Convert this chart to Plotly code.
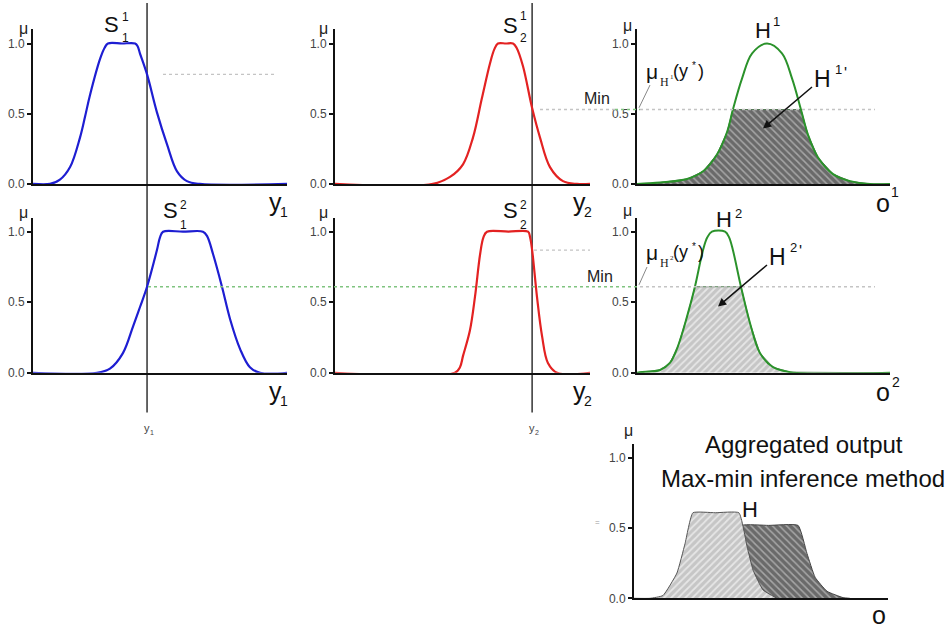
import numpy as np
import plotly.graph_objects as go

W, H = 952, 634
FONT = "Liberation Sans, Arial, sans-serif"
SERIF = "Liberation Serif, Times New Roman, serif"

# ---------------- data ----------------
Y1_INPUT = 4.49   # crisp input y1 (panel x-units 0..10)
Y2_INPUT = 7.73   # crisp input y2

# S_1^1 (blue, row 1)
S11_x = [0.0, 0.67, 1.06, 1.46, 1.85, 2.05, 2.24, 2.64, 2.82, 2.95, 3.5, 4.02, 4.12, 4.21, 4.49, 4.88, 5.28, 5.67, 6.06, 6.57, 10.0]
S11_y = [0.0, 0.0, 0.03, 0.12, 0.33, 0.48, 0.63, 0.89, 0.97, 1.0, 1.0, 1.0, 0.98, 0.93, 0.78, 0.51, 0.28, 0.09, 0.02, 0.0, 0.0]
# S_2^1 (red, row 1)
S21_x = [0.0, 3.84, 4.51, 5.02, 5.41, 5.76, 6.08, 6.25, 6.39, 6.7, 6.98, 7.12, 7.37, 7.73, 8.04, 8.43, 8.94, 9.49, 10.0]
S21_y = [0.0, 0.0, 0.05, 0.14, 0.33, 0.61, 0.86, 0.96, 1.0, 1.0, 1.0, 0.97, 0.84, 0.54, 0.33, 0.12, 0.02, 0.0, 0.0]
# H^1 (green, row 1)
H1_x = [0.0, 0.91, 1.98, 2.61, 3.16, 3.56, 3.79, 4.15, 4.55, 5.14, 5.73, 6.13, 6.48, 6.76, 7.15, 7.75, 8.42, 9.21, 10.0]
H1_y = [0.0, 0.01, 0.035, 0.09, 0.21, 0.37, 0.53, 0.75, 0.93, 1.0, 0.93, 0.75, 0.53, 0.35, 0.19, 0.07, 0.02, 0.0, 0.0]
# S_1^2 (blue, row 2)
S12_x = [0.0, 2.52, 3.03, 3.54, 3.94, 4.22, 4.49, 4.88, 5.0, 5.12, 5.9, 6.69, 6.85, 7.09, 7.44, 7.76, 8.15, 8.54, 8.94, 10.0]
S12_y = [0.0, 0.0, 0.03, 0.14, 0.33, 0.47, 0.61, 0.87, 0.96, 1.0, 1.0, 1.0, 0.97, 0.84, 0.61, 0.38, 0.17, 0.04, 0.0, 0.0]
# S_2^2 (red, row 2)
S22_x = [0.0, 4.7, 4.9, 5.02, 5.29, 5.49, 5.69, 5.82, 5.96, 6.8, 7.57, 7.65, 7.73, 7.92, 8.12, 8.35, 8.71, 10.0]
S22_y = [0.0, 0.0, 0.04, 0.12, 0.30, 0.54, 0.84, 0.96, 1.0, 1.0, 1.0, 0.96, 0.87, 0.54, 0.26, 0.07, 0.0, 0.0]
# H^2 (green, row 2)
H2_x = [0.0, 0.12, 0.91, 1.30, 1.62, 1.98, 2.29, 2.61, 2.78, 2.96, 3.48, 3.64, 3.79, 4.11, 4.47, 4.86, 5.38, 6.05, 10.0]
H2_y = [0.0, 0.005, 0.02, 0.07, 0.19, 0.40, 0.61, 0.87, 0.96, 1.0, 1.0, 0.96, 0.87, 0.61, 0.35, 0.14, 0.04, 0.005, 0.0]

# membership degrees at the crisp inputs (read where the lines cross)
MU_S11 = 0.78
MU_S21 = 0.53
MU_S12 = 0.61
MU_S22 = 0.87
LEVEL1 = min(MU_S11, MU_S21)
LEVEL2 = min(MU_S12, MU_S22)

# aggregated output pieces (panel 7)
AGG2_x = [0.0, 0.63, 1.14, 1.69, 2.01, 2.32, 3.2, 4.13, 4.45, 4.69, 5.08, 5.63]
AGG2_y = [0.0, 0.0, 0.02, 0.18, 0.39, 0.61, 0.61, 0.61, 0.37, 0.20, 0.06, 0.0]
AGG1_x = [2.20, 2.99, 3.58, 3.98, 4.25, 5.3, 6.46, 6.81, 7.13, 7.60, 8.23, 8.50]
AGG1_y = [0.0, 0.05, 0.20, 0.40, 0.52, 0.52, 0.52, 0.32, 0.15, 0.05, 0.005, 0.0]

TICK_VALS = [0.0, 0.5, 1.0]
TICK_TEXT = ["0.0", "0.5", "1.0"]

# ---------------- layout helpers ----------------
def PX(x):
    return x / W

def PY(y):
    return 1 - y / H

BLUE = "#1e1ed2"
RED = "#e32222"
GREEN = "#2b922b"

panels = {
    1: dict(x=(33, 287), y=(186, 29.8)),
    2: dict(x=(335, 590), y=(186, 29.8)),
    3: dict(x=(637, 890), y=(186, 29.8)),
    4: dict(x=(33, 287), y=(377, 220)),
    5: dict(x=(335, 590), y=(377, 220)),
    6: dict(x=(637, 890), y=(377, 220)),
    7: dict(x=(634, 888), y=(605, 449)),
}

fig = go.Figure()

def ax_name(k, letter):
    return letter if k == 1 else f"{letter}{k}"

layout = dict(
    width=W, height=H, margin=dict(l=0, r=0, t=0, b=0),
    paper_bgcolor="white", plot_bgcolor="rgba(0,0,0,0)",
    showlegend=False, font=dict(family=FONT),
)
for k, p in panels.items():
    xa = "xaxis" if k == 1 else f"xaxis{k}"
    ya = "yaxis" if k == 1 else f"yaxis{k}"
    layout[xa] = dict(domain=[PX(p["x"][0]), PX(p["x"][1])], range=[0, 10],
                      anchor=ax_name(k, "y"), showline=True, linecolor="#111", linewidth=2,
                      showgrid=False, zeroline=False, showticklabels=False, ticks="")
    layout[ya] = dict(domain=[PY(p["y"][0]), PY(p["y"][1])], range=[0, 1.1],
                      anchor=ax_name(k, "x"), showline=True, linecolor="#111", linewidth=2,
                      showgrid=False, zeroline=False, tickvals=TICK_VALS, ticktext=TICK_TEXT,
                      ticks="outside", ticklen=4, tickwidth=1.5, tickcolor="#111",
                      tickfont=dict(size=12, color="#444", family=FONT))

def line_trace(k, xs, ys, color, width=2.2):
    fig.add_trace(go.Scatter(x=xs, y=ys, mode="lines", xaxis=ax_name(k, "x"), yaxis=ax_name(k, "y"),
                             line=dict(color=color, width=width, shape="spline", smoothing=1.0),
                             hoverinfo="skip"))

DARK_PAT = dict(shape="\\", fillmode="replace", bgcolor="#6a6a6a", fgcolor="#a6a6a6", size=5, solidity=0.3)
LIGHT_PAT = dict(shape="/", fillmode="replace", bgcolor="#c6c6c6", fgcolor="#e6e6e6", size=5, solidity=0.35)

# row 1
line_trace(1, S11_x, S11_y, BLUE)
line_trace(2, S21_x, S21_y, RED)
H1_clip = np.minimum(np.array(H1_y), LEVEL1)
fig.add_trace(go.Scatter(x=H1_x, y=H1_clip, mode="lines", xaxis="x3", yaxis="y3", fill="tozeroy",
                         fillpattern=DARK_PAT, line=dict(color="#557755", width=1), hoverinfo="skip"))
line_trace(3, H1_x, H1_y, GREEN, 2)
# row 2
line_trace(4, S12_x, S12_y, BLUE)
line_trace(5, S22_x, S22_y, RED)
H2_clip = np.minimum(np.array(H2_y), LEVEL2)
fig.add_trace(go.Scatter(x=H2_x, y=H2_clip, mode="lines", xaxis="x6", yaxis="y6", fill="tozeroy",
                         fillpattern=LIGHT_PAT, line=dict(color="#5f8a5f", width=1), hoverinfo="skip"))
line_trace(6, H2_x, H2_y, GREEN, 2)
# aggregated
fig.add_trace(go.Scatter(x=AGG1_x, y=AGG1_y, mode="lines", xaxis="x7", yaxis="y7", fill="toself",
                         fillpattern=DARK_PAT, line=dict(color="#444", width=1, shape="spline", smoothing=0.4),
                         hoverinfo="skip"))
fig.add_trace(go.Scatter(x=AGG2_x, y=AGG2_y, mode="lines", xaxis="x7", yaxis="y7", fill="toself",
                         fillpattern=LIGHT_PAT, line=dict(color="#555", width=1, shape="spline", smoothing=0.4),
                         hoverinfo="skip"))

# ---------------- shapes ----------------
shapes = []
# crisp input lines
shapes.append(dict(type="line", xref="x", yref="paper", x0=Y1_INPUT, x1=Y1_INPUT, y0=PY(417), y1=PY(3),
                   line=dict(color="#333", width=1.5), layer="below"))
shapes.append(dict(type="line", xref="x2", yref="paper", x0=Y2_INPUT, x1=Y2_INPUT, y0=PY(417), y1=PY(3),
                   line=dict(color="#333", width=1.5), layer="below"))
DOT = dict(color="#c4c4c4", width=1.3, dash="dot")
GDOT = dict(color="#80c480", width=1.3, dash="dot")
# row 1 guides
shapes.append(dict(type="line", xref="paper", yref="y", x0=PX(163), x1=PX(277), y0=MU_S11, y1=MU_S11, line=DOT))
shapes.append(dict(type="line", xref="paper", yref="y2", x0=PX(540), x1=PX(615), y0=LEVEL1, y1=LEVEL1, line=DOT))
shapes.append(dict(type="line", xref="paper", yref="y2", x0=PX(615), x1=PX(640), y0=LEVEL1, y1=LEVEL1, line=GDOT))
shapes.append(dict(type="line", xref="paper", yref="y2", x0=PX(640), x1=PX(875), y0=LEVEL1, y1=LEVEL1, line=DOT))
# row 2 guides
shapes.append(dict(type="line", xref="paper", yref="y4", x0=PX(148), x1=PX(640), y0=LEVEL2, y1=LEVEL2, line=GDOT))
shapes.append(dict(type="line", xref="paper", yref="y4", x0=PX(640), x1=PX(875), y0=LEVEL2, y1=LEVEL2, line=DOT))
shapes.append(dict(type="line", xref="paper", yref="y5", x0=PX(534), x1=PX(590), y0=MU_S22, y1=MU_S22, line=DOT))
# leader lines to the axes
shapes.append(dict(type="line", xref="paper", yref="paper", x0=PX(650), y0=PY(86), x1=PX(639), y1=PY(109),
                   line=dict(color="#888", width=1)))
shapes.append(dict(type="line", xref="paper", yref="paper", x0=PX(647), y0=PY(270), x1=PX(639), y1=PY(288),
                   line=dict(color="#888", width=1)))
layout["shapes"] = shapes

# ---------------- annotations ----------------
ann = []

def txt(x, y, text, size, color="#111", family=FONT, xanchor="center", **kw):
    d = dict(x=PX(x), y=PY(y), xref="paper", yref="paper", text=text, showarrow=False,
             font=dict(size=size, color=color, family=family), xanchor=xanchor, yanchor="middle")
    d.update(kw)
    ann.append(d)

# fuzzy set labels S
txt(111, 25, "S", 22)
txt(125, 17, "1", 12)
txt(125, 38, "1", 12)
txt(510, 26, "S", 22)
txt(523, 16, "1", 12)
txt(523, 38, "2", 12)
txt(170, 213, "S", 22)
txt(183, 207, "2", 12)
txt(183, 228, "1", 12)
txt(510, 213, "S", 22)
txt(523, 207, "2", 12)
txt(523, 228, "2", 12)

# axis names
for (cx, cy, sub) in [(275, 204, "1"), (275, 395, "1")]:
    txt(cx, cy, "y", 25)
    txt(cx + 9, cy + 10, sub, 14)
for (cx, cy, sub) in [(579, 204, "2"), (579, 395, "2")]:
    txt(cx, cy, "y", 25)
    txt(cx + 9, cy + 10, sub, 14)
txt(883, 205, "o", 25)
txt(895, 194, "1", 14)
txt(883, 396, "o", 25)
txt(896, 386, "2", 14)
txt(879, 622, "o", 25)

# small crisp input labels
txt(147, 433, "y", 11, "#444")
txt(152, 437, "1", 7, "#444")
txt(532, 433, "y", 11, "#444")
txt(537, 437, "2", 7, "#444")

# mu labels on y axes
for (cx, cy) in [(23, 29), (323, 29), (627, 26), (23, 215), (323, 215), (627, 213), (628, 435)]:
    txt(cx, cy, "μ", 16, "#222")

# H labels
txt(763, 31, "H", 22)
txt(776, 22, "1", 13)
txt(724, 222, "H", 22)
txt(738, 216, "2", 13)
txt(750, 515, "H", 22)

# clipped-consequent labels with arrows (text at tail, arrow to head)
for (hx, hy, digit) in [(763, 130, "1"), (718, 310, "2")]:
    ann.append(dict(x=PX(hx), y=PY(hy), xref="paper", yref="paper",
                    text="H", showarrow=True, ax=59, ay=-50,
                    font=dict(size=23, color="#111", family=FONT),
                    arrowhead=2, arrowsize=1.1, arrowwidth=1.5, arrowcolor="#111", standoff=0))
    txt(hx + 75, hy - 60, digit, 13)
    txt(hx + 82, hy - 56, "'", 16)

# mu_H(y*) labels
for base, digit in ((0, "1"), (183, "2")):
    txt(652, 72 + base, "μ", 21, "#111")
    txt(664, 83 + base, "H", 12, "#222", family=SERIF)
    txt(671.5, 78 + base, digit, 7, "#222", family=SERIF)
    txt(690, 72 + base, "(y", 18, xanchor="right")
    txt(690, 66 + base, "*", 10, xanchor="left")
    txt(696, 72 + base, ")", 18, xanchor="left")
txt(597, 100, "Min", 16, "#222")
txt(600, 280, "Min", 16, "#222")

# aggregated title
txt(804, 449, "Aggregated output", 24)
txt(803, 484, "Max-min inference method", 24)
txt(597, 528, "=", 8, "#999")

layout["annotations"] = ann
fig.update_layout(**layout)
fig.write_html("out.html")
